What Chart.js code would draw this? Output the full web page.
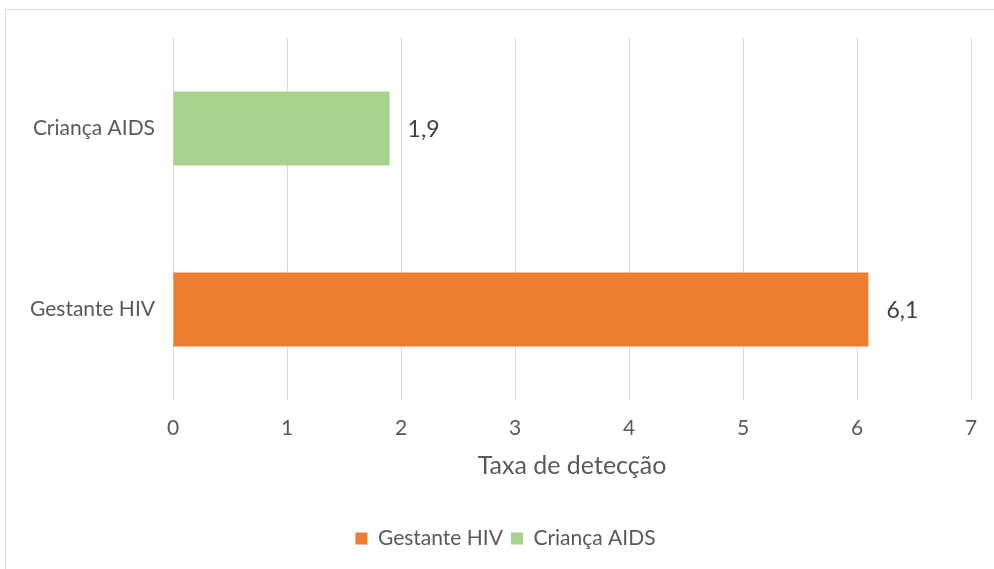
<!DOCTYPE html>
<html>
<head>
<meta charset="utf-8">
<script src="https://cdn.jsdelivr.net/npm/chart.js@4/dist/chart.umd.min.js"></script>
<style>
  html, body { margin: 0; padding: 0; background: #fff; }
  #wrap { position: relative; width: 994px; height: 569px; overflow: hidden; }
  #frame { position: absolute; left: 5px; top: 9px; width: 1100px; height: 700px; border: 1px solid #d9d9d9; box-sizing: border-box; }
  canvas { position: absolute; left: 0; top: 0; }
</style>
</head>
<body>
<div id="wrap">
  <div id="frame"></div>
  <canvas id="myChart" width="994" height="569"></canvas>
</div>
<script>
// categoria (de cima para baixo)
var categorias = ["Criança AIDS", "Gestante HIV"];
// uma série por categoria
var gestanteHIV = [null, 6.1];
var criancaAIDS = [1.9, null];
var ticksX = [0, 1, 2, 3, 4, 5, 6, 7];

var fonte = "Lato, 'Open Sans', sans-serif";
var cinza = "#595959";

// rótulo de valor à direita de cada barra
var rotulos = {
  id: "rotulos",
  afterDatasetsDraw: function(chart) {
    var ctx = chart.ctx;
    ctx.save();
    ctx.font = "23px " + fonte;
    ctx.fillStyle = "#404040";
    ctx.textBaseline = "middle";
    ctx.textAlign = "left";
    chart.data.datasets.forEach(function(ds, i) {
      chart.getDatasetMeta(i).data.forEach(function(bar, j) {
        if (ds.data[j] == null) return;
        ctx.fillText(String(ds.data[j]).replace(".", ","), bar.x + 18, bar.y + 1);
      });
    });
    ctx.restore();
  }
};

// a legenda do original fica um pouco à direita do centro
var moveLegenda = {
  id: "moveLegenda",
  afterLayout: function(chart) {
    chart.legend.left += 20;
    chart.legend.right += 20;
  }
};

new Chart(document.getElementById("myChart"), {
  type: "bar",
  data: {
    labels: categorias,
    datasets: [
      {
        label: "Gestante HIV",
        data: gestanteHIV,
        backgroundColor: "#ED7D31",
        borderColor: "#ED7D31",
        skipNull: true,
        barPercentage: 0.41,
        categoryPercentage: 1
      },
      {
        label: "Criança AIDS",
        data: criancaAIDS,
        backgroundColor: "#A9D18E",
        borderColor: "#A9D18E",
        skipNull: true,
        barPercentage: 0.41,
        categoryPercentage: 1
      }
    ]
  },
  options: {
    indexAxis: "y",
    responsive: false,
    animation: false,
    layout: { padding: { top: 38, right: 23, bottom: 10, left: 0 } },
    plugins: {
      tooltip: { enabled: false },
      legend: {
        position: "bottom",
        labels: {
          boxWidth: 12,
          boxHeight: 12,
          padding: 8,
          color: cinza,
          font: { family: fonte, size: 21 }
        }
      }
    },
    scales: {
      x: {
        min: 0,
        max: 7,
        afterBuildTicks: function(s) { s.ticks = ticksX.map(function(v) { return { value: v }; }); },
        afterFit: function(s) { s.height = 120; },
        grid: { color: "#d9d9d9", drawTicks: false },
        border: { display: false },
        ticks: { padding: 16, color: cinza, font: { family: fonte, size: 21 } },
        title: {
          display: true,
          text: "Taxa de detecção",
          color: cinza,
          font: { family: fonte, size: 25 },
          padding: { top: 0, bottom: 39 }
        }
      },
      y: {
        afterFit: function(s) { s.width = 173; },
        grid: { display: false },
        border: { display: false },
        ticks: { padding: 10, color: cinza, font: { family: fonte, size: 21 } }
      }
    }
  },
  plugins: [rotulos, moveLegenda]
});
</script>
</body>
</html>
